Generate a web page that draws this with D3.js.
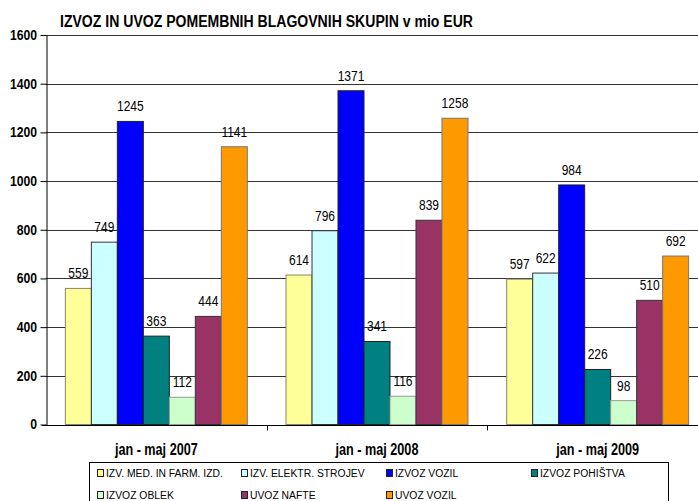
<!DOCTYPE html>
<html><head><meta charset="utf-8">
<script src="https://cdn.jsdelivr.net/npm/d3@7"></script>
<style>
body{margin:0;background:#fff;}
svg{display:block;font-family:"Liberation Sans",Arial,sans-serif;}
</style></head>
<body><svg id="c" width="698" height="501"></svg>
<script>
const categories = ["jan - maj 2007", "jan - maj 2008", "jan - maj 2009"];
const seriesNames = ["IZV. MED. IN FARM. IZD.", "IZV. ELEKTR. STROJEV", "IZVOZ VOZIL", "IZVOZ POHIŠTVA", "IZVOZ OBLEK", "UVOZ NAFTE", "UVOZ VOZIL"];
const seriesColors = ["#FFFF99", "#CCFFFF", "#0000FF", "#008080", "#CCFFCC", "#993366", "#FF9900"];
const seriesStrokes = ["#888866", "#333", "#222", "#222", "#999", "#333", "#777"];
const values = [
  [559, 614, 597],
  [749, 796, 622],
  [1245, 1371, 984],
  [363, 341, 226],
  [112, 116, 98],
  [444, 839, 510],
  [1141, 1258, 692]
];
const yTicks = [0, 200, 400, 600, 800, 1000, 1200, 1400, 1600];
const title = "IZVOZ IN UVOZ POMEMBNIH BLAGOVNIH SKUPIN v mio EUR";

(function () {
const svg = d3.select("#c");
const pLeft = 46, pRight = 708, pTop = 35, pBottom = 424.5;

// horizontally condensed text helper
function ctext(parent, x, y, str, size, sx, weight, anchor) {
  return parent.append("text")
    .attr("x", x / sx).attr("y", y)
    .attr("transform", `scale(${sx},1)`)
    .attr("font-size", size).attr("font-weight", weight || "normal")
    .attr("text-anchor", anchor || "start")
    .attr("fill", "#000")
    .text(str);
}

const y = d3.scaleLinear().domain([0, 1600]).range([pBottom, pTop]);
const x0 = d3.scaleBand().domain(categories).range([pLeft, pRight]).padding(0);
const x1 = d3.scaleBand().domain(seriesNames).range([0, x0.bandwidth()]).paddingInner(0).paddingOuter(0.745);

// gridlines
svg.append("g").selectAll("line").data(yTicks.filter(d => d > 0)).join("line")
  .attr("x1", pLeft).attr("x2", 698)
  .attr("y1", d => Math.round(y(d)) + 0.5).attr("y2", d => Math.round(y(d)) + 0.5)
  .attr("stroke", "#333").attr("stroke-width", 1);

// bars
const g = svg.append("g");
const lab = svg.append("g");
seriesNames.forEach((s, i) => {
  g.append("g").selectAll("rect").data(categories).join("rect")
    .attr("x", c => x0(c) + x1(s))
    .attr("y", (c, j) => y(values[i][j]))
    .attr("width", x1.bandwidth())
    .attr("height", (c, j) => pBottom - y(values[i][j]))
    .attr("fill", seriesColors[i])
    .attr("stroke", seriesStrokes[i]).attr("stroke-width", 1);
  categories.forEach((c, j) => {
    ctext(lab, x0(c) + x1(s) + x1.bandwidth() / 2, y(values[i][j]) - 10, values[i][j], 15, 0.8, "normal", "middle");
  });
});

// y axis
const yAxis = d3.axisLeft(y).tickValues(yTicks).tickSize(6).tickFormat("").tickSizeOuter(0);
const ya = svg.append("g").attr("transform", `translate(${pLeft + 0.5},0)`).call(yAxis);
ya.select(".domain").attr("stroke", "#000");
ya.selectAll(".tick line").attr("stroke", "#000");
yTicks.forEach(t => {
  ctext(svg, 37, y(t) + 5, d3.format("d")(t), 14.5, 0.84, "bold", "end");
});

// x axis
const xa = svg.append("g").attr("transform", `translate(0,${Math.round(pBottom) + 0.5})`);
xa.append("line").attr("x1", pLeft - 4).attr("x2", 698).attr("stroke", "#000");
const bounds = categories.map(c => x0(c)).slice(1);
xa.selectAll("line.t").data(bounds).join("line").attr("class", "t")
  .attr("x1", d => Math.round(d) + 0.5).attr("x2", d => Math.round(d) + 0.5)
  .attr("y1", 0).attr("y2", 5).attr("stroke", "#000");
categories.forEach(c => {
  ctext(svg, x0(c) + x0.bandwidth() / 2, 455, c, 16, 0.79, "bold", "middle");
});

// title
svg.append("text").attr("x", 60).attr("y", 27)
  .attr("font-size", 16).attr("font-weight", "bold")
  .attr("textLength", 413).attr("lengthAdjust", "spacingAndGlyphs")
  .text(title);

// legend
const lg = svg.append("g");
lg.append("rect").attr("x", 89.5).attr("y", 462.5).attr("width", 579).attr("height", 50)
  .attr("fill", "#fff").attr("stroke", "#000");
const colX = [97, 241, 386, 531];
seriesNames.forEach((s, i) => {
  const cx = colX[i % 4], cy = i < 4 ? 473 : 495;
  lg.append("rect").attr("x", cx + 0.5).attr("y", cy - 3.5).attr("width", 6).attr("height", 7)
    .attr("fill", seriesColors[i]).attr("stroke", "#222").attr("stroke-width", 1);
  ctext(lg, cx + 9, cy + 4, s, 11.5, 0.9, "normal", "start");
});
})();
</script></body></html>
